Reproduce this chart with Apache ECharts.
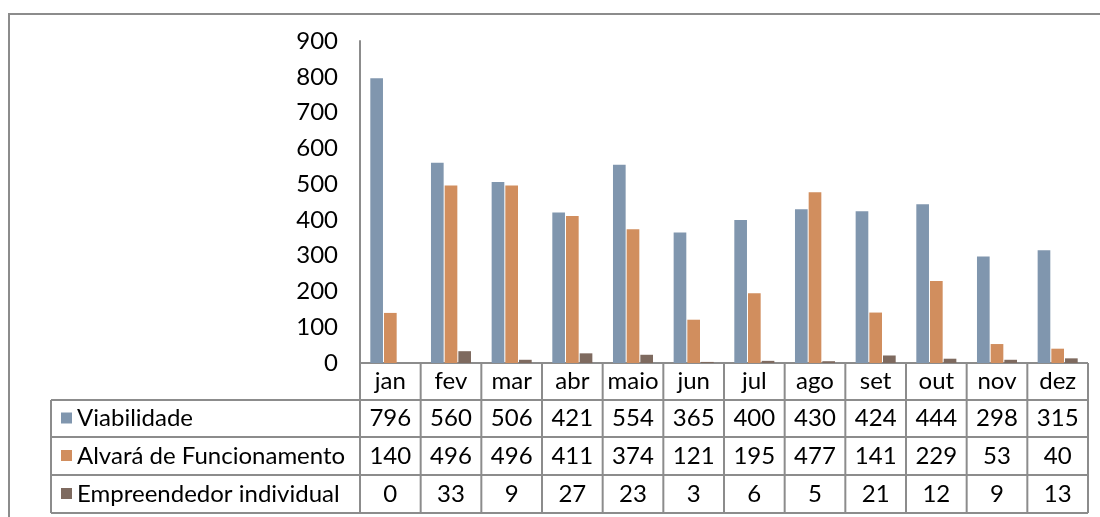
<!DOCTYPE html>
<html>
<head>
    <meta charset="utf-8">
    <title>Viabilidade / Alvará / Empreendedor</title>
    <script src="https://cdn.jsdelivr.net/npm/echarts@6/dist/echarts.min.js"></script>
    <style>
        html, body { margin: 0; padding: 0; background: #fff; }
        #main { width: 1100px; height: 517px; }
    </style>
</head>
<body>
    <div id="main"></div>
    <script type="text/javascript">
        // dados
        var meses = ['jan', 'fev', 'mar', 'abr', 'maio', 'jun', 'jul', 'ago', 'set', 'out', 'nov', 'dez'];
        var viabilidade = [796, 560, 506, 421, 554, 365, 400, 430, 424, 444, 298, 315];
        var alvara = [140, 496, 496, 411, 374, 121, 195, 477, 141, 229, 53, 40];
        var empreendedor = [0, 33, 9, 27, 23, 3, 6, 5, 21, 12, 9, 13];
        var nomes = ['Viabilidade', 'Alvará de Funcionamento', 'Empreendedor individual'];
        var cores = ['#8096AE', '#D18E5E', '#7E6A5F'];

        var fonte = 'Lato, "Open Sans", sans-serif';
        var tamanho = 24;
        var corLinha = '#8c8c8c';

        var myChart = echarts.init(document.getElementById('main'));

        var option = {
            animation: false,
            color: cores,
            grid: { left: 360, right: 12, top: 41, bottom: 154, containLabel: false },
            xAxis: {
                type: 'category',
                data: meses,
                axisLine: { show: false },
                axisTick: { show: false },
                axisLabel: { show: false }
            },
            yAxis: {
                type: 'value',
                min: 0,
                max: 900,
                interval: 100,
                axisLine: { show: true, lineStyle: { color: corLinha, width: 2 } },
                axisTick: { show: false },
                splitLine: { show: false },
                axisLabel: { margin: 22, color: '#000', fontSize: tamanho, fontFamily: fonte }
            },
            series: [
                { name: nomes[0], type: 'bar', data: viabilidade, barGap: '8%', barCategoryGap: '34%' },
                { name: nomes[1], type: 'bar', data: alvara },
                { name: nomes[2], type: 'bar', data: empreendedor }
            ]
        };
        myChart.setOption(option);

        // tabela de dados abaixo do gráfico
        var linhas = [viabilidade, alvara, empreendedor];
        var yTopo = 363, yRows = [400, 437, 475, 513];
        var xTabela = 51;
        var elems = [];

        // borda externa
        elems.push({
            type: 'rect', silent: true,
            shape: { x: 9, y: 14, width: 1100, height: 520 },
            style: { fill: 'none', stroke: corLinha, lineWidth: 2 }
        });

        var w = myChart.convertToPixel({ xAxisIndex: 0 }, 1) - myChart.convertToPixel({ xAxisIndex: 0 }, 0);
        var x0 = myChart.convertToPixel({ xAxisIndex: 0 }, 0) - w / 2;
        var xFim = x0 + w * meses.length;

        function linha(x1, y1, x2, y2) {
            elems.push({
                type: 'line', silent: true,
                shape: { x1: x1, y1: y1, x2: x2, y2: y2 },
                style: { stroke: corLinha, lineWidth: 2 }
            });
        }
        function texto(x, y, t, align) {
            elems.push({
                type: 'text', silent: true,
                style: {
                    x: x, y: y, text: t, fill: '#000', fontSize: tamanho, fontFamily: fonte,
                    align: align || 'center', verticalAlign: 'middle'
                }
            });
        }

        linha(x0, yTopo, xFim, yTopo);
        yRows.forEach(function (y) { linha(xTabela, y, xFim, y); });
        linha(xTabela, yRows[0], xTabela, yRows[3]);
        for (var i = 0; i <= meses.length; i++) {
            linha(x0 + w * i, yTopo, x0 + w * i, yRows[3]);
        }

        meses.forEach(function (m, i) {
            var cx = x0 + w * (i + 0.5);
            texto(cx, (yTopo + yRows[0]) / 2, m);
            linhas.forEach(function (arr, r) {
                texto(cx, (yRows[r] + yRows[r + 1]) / 2, String(arr[i]));
            });
        });

        nomes.forEach(function (n, r) {
            var cy = (yRows[r] + yRows[r + 1]) / 2;
            elems.push({
                type: 'rect', silent: true,
                shape: { x: 61, y: cy - 6, width: 11, height: 11 },
                style: { fill: cores[r] }
            });
            texto(77, cy, n, 'left');
        });

        myChart.setOption({ graphic: elems });
    </script>
</body>
</html>
